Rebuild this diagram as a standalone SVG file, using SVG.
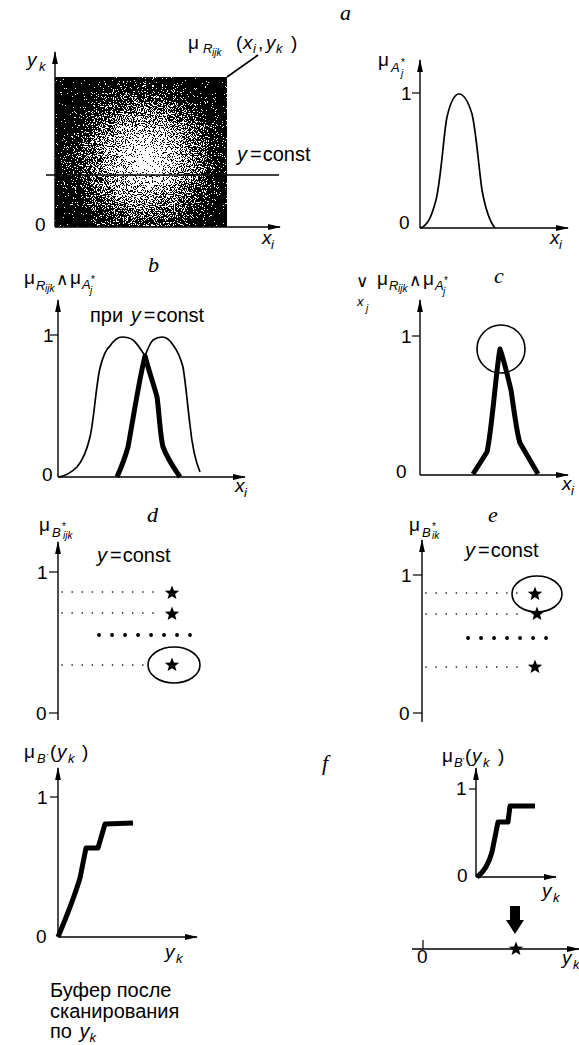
<svg xmlns="http://www.w3.org/2000/svg" width="579" height="1045" viewBox="0 0 579 1045">
<style>
.t{font-family:"Liberation Sans",Arial,sans-serif;font-size:19px;fill:#000}
.i{font-style:italic}
.s{font-size:13px}
.ss{font-size:10px}
.st{font-size:10px}
.op{font-family:"DejaVu Sans",sans-serif;font-size:17px}
.c{font-size:20px}
.L{font-family:"Liberation Serif",serif;font-style:italic;font-size:22px;fill:#000}
.ax{stroke:#000;stroke-width:1.4;fill:none}
.tk{stroke:#000;stroke-width:1.2;fill:none}
.thin{stroke:#000;stroke-width:1.7;fill:none;stroke-linejoin:round}
.thick{stroke:#000;stroke-width:5;fill:none;stroke-linejoin:round}
.dot{stroke:#000;stroke-width:1.6;stroke-dasharray:0.1 10;stroke-linecap:round;fill:none}
.bigdot{stroke:#000;stroke-width:3.8;stroke-dasharray:0.1 12.9;stroke-linecap:round;fill:none}
.ring{stroke:#000;stroke-width:1.6;fill:none}
</style>
<defs>
<marker id="arr" markerUnits="userSpaceOnUse" markerWidth="13" markerHeight="7" refX="12" refY="3.5" orient="auto">
<path d="M0,0.6 L13,3.5 L0,6.4 z" fill="#000"/>
</marker>
<radialGradient id="glow" gradientUnits="userSpaceOnUse" cx="145" cy="160" r="90">
<stop offset="0" stop-color="#f0f0f0"/>
<stop offset="0.2" stop-color="#c0c0c0"/>
<stop offset="0.5" stop-color="#808080"/>
<stop offset="0.8" stop-color="#383838"/>
<stop offset="1" stop-color="#050505"/>
</radialGradient>
<filter id="dither" x="0" y="0" width="1" height="1" color-interpolation-filters="sRGB">
<feTurbulence type="fractalNoise" baseFrequency="0.9" numOctaves="2" seed="7" result="noise"/>
<feColorMatrix in="noise" type="matrix" values="1 0 0 0 0 1 0 0 0 0 1 0 0 0 0 0 0 0 0 1" result="gn"/>
<feComposite in="SourceGraphic" in2="gn" operator="arithmetic" k1="0" k2="1" k3="2.2" k4="-1.1" result="sum"/>
<feComponentTransfer in="sum">
<feFuncR type="discrete" tableValues="0 1"/>
<feFuncG type="discrete" tableValues="0 1"/>
<feFuncB type="discrete" tableValues="0 1"/>
</feComponentTransfer>
</filter>
<path id="star" d="M0,-7.5 L1.9,-2.5 L7.2,-2.3 L3.1,1 L4.4,6.1 L0,3.2 L-4.4,6.1 L-3.1,1 L-7.2,-2.3 L-1.9,-2.5 z" fill="#000"/>
</defs>

<!-- panel letters -->
<g id="letters">
<text class="L" x="340" y="20">a</text>
<text class="L" x="148" y="272">b</text>
<text class="L" x="494" y="283">c</text>
<text class="L" x="147" y="522">d</text>
<text class="L" x="488" y="522">e</text>
<text class="L" x="322" y="770">f</text>
</g>

<!-- Panel a left: relation surface -->
<g id="panel-a-left">
<rect x="55" y="77" width="172" height="150" fill="url(#glow)" filter="url(#dither)"/>
<line class="ax" x1="55" y1="227" x2="55" y2="52" marker-end="url(#arr)"/>
<line class="ax" x1="55" y1="227" x2="280" y2="227" marker-end="url(#arr)"/>
<line class="thin" x1="46" y1="175" x2="279" y2="175" stroke-width="1.4"/>
<line class="thin" x1="227" y1="77" x2="258" y2="55" stroke-width="1.4"/>
<text class="t"><tspan class="i" x="27" y="66">y</tspan><tspan class="i s" x="39" y="71">k</tspan></text>
<text class="t" x="35" y="231">0</text>
<text class="t"><tspan class="i" x="262" y="244">x</tspan><tspan class="i s" x="271" y="249">i</tspan></text>
<text class="t c" x="237" y="161"><tspan class="i">y</tspan><tspan dx="3">=</tspan><tspan dx="1">const</tspan></text>
<text class="t"><tspan x="188" y="49">μ</tspan><tspan class="i s" x="203" y="53">R</tspan><tspan class="i ss" x="212" y="56">ijk</tspan><tspan x="236" y="49">(</tspan><tspan class="i" x="243" y="49">x</tspan><tspan class="i s" x="253" y="53">i</tspan><tspan x="258" y="49">,</tspan><tspan class="i" x="266" y="49">y</tspan><tspan class="i s" x="276" y="53">k</tspan><tspan x="291" y="49">)</tspan></text>
</g>

<!-- Panel a right: input fuzzy set -->
<g id="panel-a-right">
<line class="ax" x1="420" y1="228" x2="420" y2="60" marker-end="url(#arr)"/>
<line class="ax" x1="420" y1="228" x2="568" y2="228" marker-end="url(#arr)"/>
<line class="tk" x1="412" y1="93" x2="420" y2="93"/>
<text class="t" x="401" y="100">1</text>
<text class="t" x="399" y="229">0</text>
<text class="t"><tspan class="i" x="550" y="244">x</tspan><tspan class="i s" x="559" y="249">i</tspan></text>
<text class="t"><tspan x="378" y="66">μ</tspan><tspan class="i s" x="391" y="72">A</tspan><tspan class="st" x="401" y="66">*</tspan><tspan class="i ss" x="401" y="77">j</tspan></text>
<path class="thin" d="M420,228 C428,226 432,215 436,200 C441,180 444,130 447,117 C450,104 454,94 459,94 C465,94 469,104 472,114 C476,130 479,170 482,190 C486,212 490,222 495,228"/>
</g>

<!-- Panel b -->
<g id="panel-b">
<line class="ax" x1="58" y1="477" x2="58" y2="300" marker-end="url(#arr)"/>
<line class="ax" x1="58" y1="477" x2="245" y2="477" marker-end="url(#arr)"/>
<line class="tk" x1="50" y1="335" x2="58" y2="335"/>
<text class="t" x="43" y="342">1</text>
<text class="t" x="42" y="481">0</text>
<text class="t"><tspan class="i" x="235" y="492">x</tspan><tspan class="i s" x="244" y="497">i</tspan></text>
<text class="t"><tspan x="24" y="284">μ</tspan><tspan class="i s" x="36" y="290">R</tspan><tspan class="i ss" x="45" y="292">ijk</tspan><tspan class="op" x="56" y="285">∧</tspan><tspan x="70" y="284">μ</tspan><tspan class="i s" x="82" y="289">A</tspan><tspan class="st" x="91" y="283">*</tspan><tspan class="i ss" x="90" y="294">j</tspan></text>
<text class="t c" x="90" y="322">при <tspan class="i" dx="2">y</tspan><tspan dx="3">=</tspan><tspan dx="1">const</tspan></text>
<path class="thin" d="M58,477 C66,476 72,472 77,467 C83,460 87,450 90,437 C94,420 96,385 100,368 C103,356 106,349 110,346 C114,340 118,337 122,337 C127,337 130,338 133,340 C137,343 140,348 145,356"/>
<path class="thin" d="M145,356 C148,348 150,343 153,340 C156,338 159,337 162,337 C166,337 170,340 173,345 C177,350 180,356 183,367 C186,385 188,410 190,425 C192,445 195,460 200,472"/>
<path class="thick" d="M117,477 C121,468 125,458 128,447 C133,420 139,380 145,356 C150,375 154,385 157,397 C159,410 160,435 163,447 C168,460 174,468 180,477"/>
</g>

<!-- Panel c -->
<g id="panel-c">
<line class="ax" x1="420" y1="475" x2="420" y2="300" marker-end="url(#arr)"/>
<line class="ax" x1="420" y1="475" x2="568" y2="475" marker-end="url(#arr)"/>
<line class="tk" x1="412" y1="336" x2="420" y2="336"/>
<text class="t" x="401" y="343">1</text>
<text class="t" x="396" y="478">0</text>
<text class="t"><tspan class="i" x="562" y="490">x</tspan><tspan class="i s" x="571" y="495">i</tspan></text>
<text class="t"><tspan class="op" x="356" y="287">∨</tspan><tspan x="377" y="285">μ</tspan><tspan class="i s" x="389" y="290">R</tspan><tspan class="i ss" x="398" y="292">ijk</tspan><tspan class="op" x="409" y="286">∧</tspan><tspan x="423" y="285">μ</tspan><tspan class="i s" x="435" y="290">A</tspan><tspan class="st" x="444" y="284">*</tspan><tspan class="i ss" x="443" y="295">j</tspan></text>
<text class="t"><tspan class="i s" x="357" y="306">x</tspan><tspan class="i ss" x="366" y="312">j</tspan></text>
<circle class="ring" cx="501" cy="349" r="24"/>
<path class="thick" d="M473,474 L487,452 C492,430 496,370 500,349 C504,360 508,378 511,390 C514,410 517,435 520,443 L538,474"/>
</g>

<!-- Panel d -->
<g id="panel-d">
<line class="ax" x1="58" y1="720" x2="58" y2="542" marker-end="url(#arr)"/>
<line class="tk" x1="49" y1="572" x2="58" y2="572"/>
<line class="tk" x1="49" y1="713" x2="58" y2="713"/>
<text class="t" x="37" y="579">1</text>
<text class="t" x="36" y="720">0</text>
<text class="t"><tspan x="39" y="531">μ</tspan><tspan class="i s" x="52" y="537">B</tspan><tspan class="st" x="62" y="530">*</tspan><tspan class="i ss" x="63" y="539">ijk</tspan></text>
<text class="t c" x="97" y="562"><tspan class="i">y</tspan><tspan dx="3">=</tspan><tspan dx="1">const</tspan></text>
<line class="dot" x1="62" y1="592" x2="158" y2="592"/>
<line class="dot" x1="62" y1="613" x2="158" y2="613"/>
<line class="dot" x1="62" y1="665" x2="148" y2="665"/>
<line class="bigdot" x1="99" y1="635" x2="190" y2="635"/>
<use href="#star" x="172" y="593"/>
<use href="#star" x="172" y="614"/>
<use href="#star" x="172" y="665"/>
<ellipse class="ring" cx="174" cy="665" rx="26" ry="18"/>
</g>

<!-- Panel e -->
<g id="panel-e">
<line class="ax" x1="422" y1="722" x2="422" y2="540" marker-end="url(#arr)"/>
<line class="tk" x1="413" y1="575" x2="422" y2="575"/>
<line class="tk" x1="413" y1="713" x2="422" y2="713"/>
<text class="t" x="401" y="582">1</text>
<text class="t" x="399" y="720">0</text>
<text class="t"><tspan x="409" y="531">μ</tspan><tspan class="i s" x="422" y="537">B</tspan><tspan class="st" x="432" y="530">*</tspan><tspan class="i ss" x="432" y="539">ik</tspan></text>
<text class="t c" x="465" y="557"><tspan class="i">y</tspan><tspan dx="3">=</tspan><tspan dx="1">const</tspan></text>
<line class="dot" x1="426" y1="593" x2="523" y2="593"/>
<line class="dot" x1="426" y1="614" x2="523" y2="614"/>
<line class="dot" x1="426" y1="667" x2="523" y2="667"/>
<line class="bigdot" x1="468" y1="638" x2="558" y2="638"/>
<use href="#star" x="535" y="594"/>
<use href="#star" x="537" y="614"/>
<use href="#star" x="535" y="667"/>
<ellipse class="ring" cx="537" cy="594" rx="25" ry="18"/>
</g>

<!-- Panel f left -->
<g id="panel-f-left">
<line class="ax" x1="58" y1="937" x2="58" y2="768" marker-end="url(#arr)"/>
<line class="ax" x1="58" y1="937" x2="197" y2="937" marker-end="url(#arr)"/>
<line class="tk" x1="50" y1="797" x2="58" y2="797"/>
<text class="t" x="37" y="804">1</text>
<text class="t" x="36" y="943">0</text>
<text class="t"><tspan class="i" x="165" y="958">y</tspan><tspan class="i s" x="176" y="963">k</tspan></text>
<text class="t"><tspan x="24" y="758">μ</tspan><tspan class="i s" x="37" y="763">B</tspan><tspan class="st" x="46" y="758">·</tspan><tspan x="50" y="758">(</tspan><tspan class="i" x="57" y="758">y</tspan><tspan class="i s" x="68" y="763">k</tspan><tspan x="82" y="758">)</tspan></text>
<path class="thick" d="M58,937 C66,918 74,898 80,878 L86,848 L98,848 L105,824 L133,823"/>
<text class="t c" x="50" y="997">Буфер после</text>
<text class="t c" x="50" y="1018">сканирования</text>
<text class="t c" x="50" y="1038">по <tspan class="i" dx="2">y</tspan><tspan class="i s" dy="4">k</tspan></text>
</g>

<!-- Panel f right -->
<g id="panel-f-right">
<line class="ax" x1="476" y1="877" x2="476" y2="768" marker-end="url(#arr)"/>
<line class="ax" x1="476" y1="877" x2="556" y2="877" marker-end="url(#arr)"/>
<line class="tk" x1="469" y1="789" x2="476" y2="789"/>
<text class="t" x="456" y="795">1</text>
<text class="t" x="457" y="882">0</text>
<text class="t"><tspan class="i" x="542" y="897">y</tspan><tspan class="i s" x="553" y="902">k</tspan></text>
<text class="t"><tspan x="442" y="762">μ</tspan><tspan class="i s" x="454" y="767">B</tspan><tspan class="st" x="462" y="762">·</tspan><tspan x="465" y="762">(</tspan><tspan class="i" x="472" y="762">y</tspan><tspan class="i s" x="483" y="767">k</tspan><tspan x="498" y="762">)</tspan></text>
<path class="thick" d="M477,877 C484,872 489,863 492,852 L498,822 L508,822 L510,806 L535,806"/>
</g>

<!-- Defuzzification axis -->
<g id="panel-f-result">
<path d="M510,906 L520,906 L520,920 L524,920 L515,934 L506,920 L510,920 z" fill="#000"/>
<line class="ax" x1="412" y1="949" x2="579" y2="949" marker-end="url(#arr)"/>
<line class="tk" x1="423" y1="940" x2="423" y2="949"/>
<text class="t" x="417" y="963">0</text>
<text class="t"><tspan class="i" x="562" y="964">y</tspan><tspan class="i s" x="573" y="969">k</tspan></text>
<use href="#star" x="516" y="949"/>
</g>
</svg>
